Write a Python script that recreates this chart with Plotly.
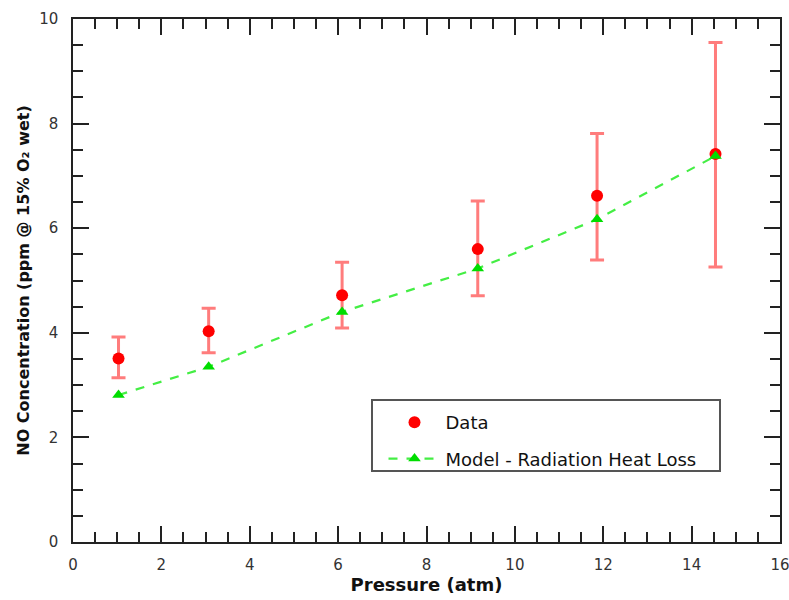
import plotly.graph_objects as go

pressure = [1.03, 3.07, 6.09, 9.16, 11.86, 14.54]
no_data = [3.51, 4.03, 4.72, 5.60, 6.62, 7.42]
err_plus = [0.41, 0.44, 0.63, 0.92, 1.19, 2.13]
err_minus = [0.37, 0.41, 0.63, 0.89, 1.23, 2.16]
model = [2.81, 3.35, 4.40, 5.23, 6.17, 7.38]

FONT = "DejaVu Sans"

fig = go.Figure()
fig.add_trace(go.Scatter(
    x=pressure, y=no_data, mode="markers", name="Data",
    legendgroup="a",
    marker=dict(symbol="circle", size=12, color="#ff0000"),
    error_y=dict(type="data", symmetric=False, array=err_plus, arrayminus=err_minus,
                 color="rgba(255,80,80,0.75)", thickness=3, width=7),
))
fig.add_trace(go.Scatter(
    x=pressure, y=model, mode="lines+markers", name="Model - Radiation Heat Loss",
    legendgroup="b",
    line=dict(color="#44ee44", width=2.2, dash="dash"),
    marker=dict(symbol="triangle-up", size=11, color="#00dd00"),
))

W, H = 789, 600
L, R, T, B = 73, 9, 19, 58
pw, ph = W - L - R, H - T - B

def px_x(p):
    return (p - L) / pw

def px_y(p):
    return (H - B - p) / ph

fig.add_shape(type="rect", xref="paper", yref="paper",
              x0=px_x(372), x1=px_x(720), y0=px_y(471), y1=px_y(400),
              line=dict(color="#555555", width=2), fillcolor="rgba(0,0,0,0)", layer="above")

axis_common = dict(
    showgrid=False, zeroline=False, showline=True, linecolor="#222222", linewidth=1.5,
    mirror="ticks", ticks="inside", ticklen=16, tickwidth=1.5, tickcolor="#222222",
    tickfont=dict(family=FONT, size=15, color="#333333"), automargin=False,
    ticklabeloverflow="allow",
)

fig.update_xaxes(range=[0, 16], dtick=2, tick0=0,
                 minor=dict(dtick=0.5, ticklen=10, tickwidth=1.5, tickcolor="#222222", ticks="inside"),
                 ticklabelstandoff=8,
                 title=dict(text="Pressure (atm)", font=dict(family=FONT, size=18, color="#111111", weight="bold"), standoff=2),
                 **axis_common)
fig.update_yaxes(range=[0, 10], dtick=2, tick0=0,
                 minor=dict(dtick=0.5, ticklen=10, tickwidth=1.5, tickcolor="#222222", ticks="inside"),
                 ticklabelstandoff=10,
                 title=dict(text="NO Concentration (ppm @ 15% O₂ wet)", font=dict(family=FONT, size=16, color="#111111", weight="bold"), standoff=6),
                 **axis_common)

fig.update_layout(
    width=W, height=H,
    margin=dict(l=L, r=R, t=T, b=B),
    paper_bgcolor="white", plot_bgcolor="white",
    showlegend=True,
    legend=dict(x=px_x(383.5), y=px_y(404), xanchor="left", yanchor="top",
                bgcolor="rgba(0,0,0,0)", borderwidth=0, tracegroupgap=10, itemwidth=52,
                font=dict(family=FONT, size=18, color="#111111")),
)

fig.write_html("out.html")
